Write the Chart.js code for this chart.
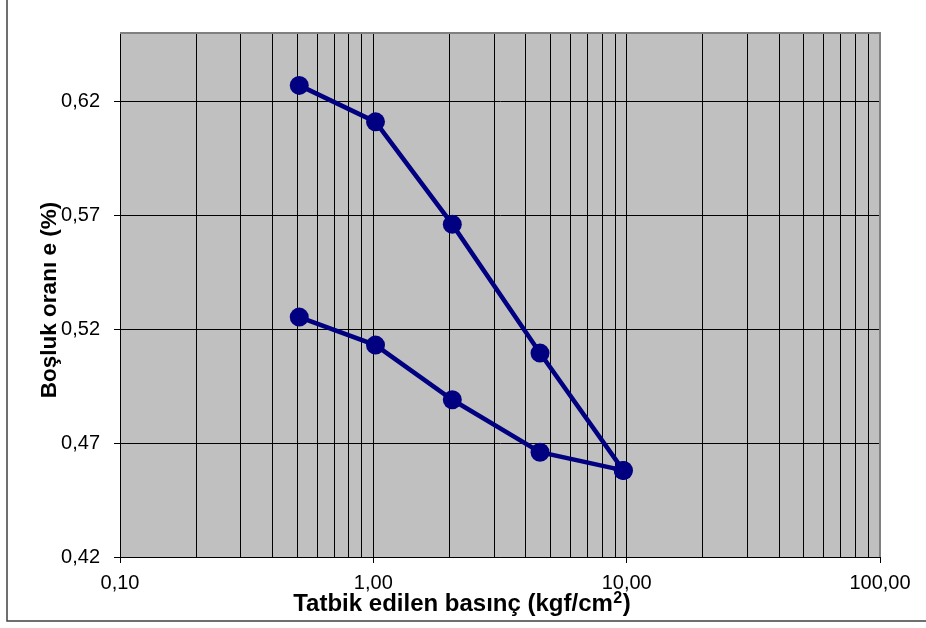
<!DOCTYPE html>
<html>
<head>
<meta charset="utf-8">
<script src="https://cdn.jsdelivr.net/npm/chart.js@4"></script>
<style>
  body { margin: 0; background: #fff; }
  #wrap { width: 926px; height: 628px; }
</style>
</head>
<body>
<div id="wrap"><canvas id="chart" width="926" height="628"></canvas></div>
<script>
// yükleme ve boşaltma kolları
const loadingPressure = [0.51, 1.02, 2.05, 4.55, 9.7];
const loadingRatio = [0.627, 0.611, 0.566, 0.5095, 0.458];
const unloadingPressure = [9.7, 4.55, 2.05, 1.02, 0.51];
const unloadingRatio = [0.458, 0.466, 0.489, 0.513, 0.5253];

const xTickValues = [0.1, 0.2, 0.3, 0.4, 0.5, 0.6, 0.7, 0.8, 0.9,
                     1, 2, 3, 4, 5, 6, 7, 8, 9,
                     10, 20, 30, 40, 50, 60, 70, 80, 90, 100];
const xLabelValues = [0.1, 1, 10, 100];
const yTickValues = [0.42, 0.47, 0.52, 0.57, 0.62];

// x başlığı üç parça: ana metin, üst simge, kapanış parantezi
const xTitleParts = ['Tatbik edilen basınç (kgf/cm', '2', ')'];
const yTitle = 'Boşluk oranı e (%)';

const navy = '#000080';
const fontFamily = '"Liberation Sans", Arial, sans-serif';
const fmt = v => v.toFixed(2).replace('.', ',');

function toPoints(xs, ys) {
    return xs.map((x, i) => ({ x: x, y: ys[i] }));
}

// arka plan, çerçeve ve eksen başlıkları
const framePlugin = {
    id: 'frame',
    beforeDraw(chart) {
        const { ctx, chartArea: a } = chart;
        ctx.save();
        ctx.fillStyle = '#c0c0c0';
        ctx.fillRect(a.left, a.top, a.right - a.left, a.bottom - a.top);
        ctx.strokeStyle = '#404040';
        ctx.lineWidth = 1.5;
        ctx.beginPath();
        ctx.moveTo(7, 0);
        ctx.lineTo(7, 621);
        ctx.lineTo(926, 621);
        ctx.stroke();
        ctx.restore();
    },
    beforeDatasetsDraw(chart) {
        const { ctx, chartArea: a } = chart;
        ctx.save();
        ctx.strokeStyle = '#808080';
        ctx.lineWidth = 2;
        ctx.beginPath();
        ctx.moveTo(a.left, a.top);
        ctx.lineTo(a.right, a.top);
        ctx.lineTo(a.right, a.bottom);
        ctx.stroke();

        ctx.fillStyle = '#000';
        ctx.textBaseline = 'alphabetic';
        ctx.textAlign = 'left';
        const mainFont = 'bold 24px ' + fontFamily;
        const supFont = 'bold 16px ' + fontFamily;
        ctx.font = mainFont;
        const w0 = ctx.measureText(xTitleParts[0]).width;
        const w2 = ctx.measureText(xTitleParts[2]).width;
        ctx.font = supFont;
        const w1 = ctx.measureText(xTitleParts[1]).width;
        let x = 462 - (w0 + w1 + w2 + 1) / 2;
        const base = 611;
        ctx.font = mainFont;
        ctx.fillText(xTitleParts[0], x, base);
        x += w0 + 0.5;
        ctx.font = supFont;
        ctx.fillText(xTitleParts[1], x, base - 8);
        x += w1 + 0.5;
        ctx.font = mainFont;
        ctx.fillText(xTitleParts[2], x, base);

        ctx.textAlign = 'center';
        ctx.font = 'bold 22.5px ' + fontFamily;
        ctx.translate(56, 300);
        ctx.rotate(-Math.PI / 2);
        ctx.fillText(yTitle, 0, 0);
        ctx.restore();
    }
};

const dsStyle = {
    borderColor: navy,
    backgroundColor: navy,
    borderWidth: 4.5,
    pointRadius: 9.5,
    pointBorderWidth: 0,
    pointBackgroundColor: navy,
    showLine: true,
    tension: 0
};

const ctx = document.getElementById('chart').getContext('2d');
new Chart(ctx, {
    type: 'scatter',
    data: {
        datasets: [
            Object.assign({ label: 'yükleme', data: toPoints(loadingPressure, loadingRatio) }, dsStyle),
            Object.assign({ label: 'boşaltma', data: toPoints(unloadingPressure, unloadingRatio) }, dsStyle)
        ]
    },
    options: {
        responsive: false,
        animation: false,
        layout: { padding: { top: 33, right: 46, left: 0, bottom: 0 } },
        plugins: {
            legend: { display: false },
            tooltip: { enabled: false }
        },
        scales: {
            x: {
                type: 'logarithmic',
                min: 0.1,
                max: 100,
                afterBuildTicks: scale => {
                    scale.ticks = xTickValues.map(v => ({ value: v, major: xLabelValues.includes(v) }));
                },
                afterFit: scale => { scale.height = 71; },
                grid: {
                    color: '#000',
                    lineWidth: 1,
                    tickLength: 6,
                    tickColor: c => (c.tick && xLabelValues.includes(c.tick.value)) ? '#000' : 'rgba(0,0,0,0)'
                },
                border: { display: true, color: '#000', width: 1 },
                ticks: {
                    autoSkip: false,
                    maxRotation: 0,
                    padding: 8,
                    color: '#000',
                    font: { family: fontFamily, size: 20 },
                    callback: v => xLabelValues.includes(v) ? fmt(v) : ''
                }
            },
            y: {
                type: 'linear',
                min: 0.42,
                max: 0.65,
                afterBuildTicks: scale => {
                    scale.ticks = yTickValues.map(v => ({ value: v }));
                },
                afterFit: scale => { scale.width = 120; },
                grid: { color: '#000', lineWidth: 1, tickLength: 6, tickColor: '#000' },
                border: { display: true, color: '#000', width: 1 },
                ticks: {
                    padding: 14,
                    color: '#000',
                    font: { family: fontFamily, size: 20 },
                    callback: v => fmt(v)
                }
            }
        }
    },
    plugins: [framePlugin]
});
</script>
</body>
</html>
